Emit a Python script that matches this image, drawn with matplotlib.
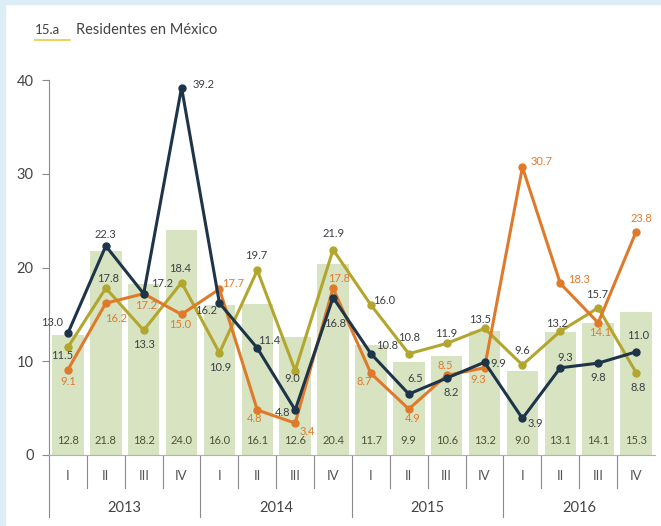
import matplotlib
matplotlib.use("Agg")
import matplotlib.pyplot as plt
import matplotlib.patches as mpatches
import matplotlib.transforms as mtransforms

plt.rcParams['font.family'] = ['Lato', 'DejaVu Sans']

years = ["2013", "2014", "2015", "2016"]
quarters = ["I", "II", "III", "IV"]

bars = [12.8, 21.8, 18.2, 24.0, 16.0, 16.1, 12.6, 20.4,
        11.7, 9.9, 10.6, 13.2, 9.0, 13.1, 14.1, 15.3]
navy = [13.0, 22.3, 17.2, 39.2, 16.2, 11.4, 4.8, 16.8,
        10.8, 6.5, 8.2, 9.9, 3.9, 9.3, 9.8, 11.0]
orange = [9.1, 16.2, 17.2, 15.0, 17.7, 4.8, 3.4, 17.8,
          8.7, 4.9, 8.5, 9.3, 30.7, 18.3, 14.1, 23.8]
olive = [11.5, 17.8, 13.3, 18.4, 10.9, 19.7, 9.0, 21.9,
         16.0, 10.8, 11.9, 13.5, 9.6, 13.2, 15.7, 8.8]

# label offsets (pixels) - layout only
navy_off = [(-16, 11), (0, 11), (18, 10), (22, 3), (-13, -7), (12, 8), (-13, -2), (2, -26),
            (16, 8), (6, 16), (5, -14), (14, -1), (13, -5), (5, 10), (0, -14), (2, 16)]
orange_off = [(0, -12), (10, -15), (2, -12), (-1, -10), (14, 6), (-3, -9), (12, -8), (6, 10),
              (-7, -8), (4, -9), (-1, 10), (-6, -12), (19, 6), (19, 4), (2, -10), (5, 13)]
olive_off = [(-6, -8), (2, 10), (0, -14), (-1, 14), (1, -15), (-1, 15), (-3, -8), (1, 16),
             (13, 4), (0, 16), (0, 10), (-4, 9), (0, 15), (-3, 8), (-1, 13), (2, -15)]

C_NAVY = "#1d3449"
C_ORANGE = "#e07a2b"
C_OLIVE = "#b3a62e"
C_BAR = "#d7e3c1"
C_TEXT = "#3a3f44"
C_GRAY = "#8a8a8a"

fig = plt.figure(figsize=(6.61, 5.26), dpi=100)
fig.patch.set_facecolor("white")
# light blue frame on left and top
fig.add_artist(mpatches.Rectangle((0, 0), 5 / 661, 1, transform=fig.transFigure,
                                  color="#dcedf5", zorder=0))
fig.add_artist(mpatches.Rectangle((0, 1 - 4 / 526), 1, 4 / 526, transform=fig.transFigure,
                                  color="#dcedf5", zorder=0))

ax = fig.add_axes([49 / 661, 71 / 526, 606 / 661, 375 / 526])
n = len(bars)
xs = list(range(n))

ax.bar(xs, bars, width=0.83, color=C_BAR, zorder=1)
for x, v in zip(xs, bars):
    ax.annotate(f"{v:.1f}", (x, 0), xytext=(0, 15), textcoords="offset pixels",
                ha="center", va="center", fontsize=8, color="#4b5236", zorder=5)

def draw(vals, color, offs, tcolor, z):
    ax.plot(xs, vals, color=color, lw=2.2, marker="o", ms=5, zorder=z,
            clip_on=False)
    for x, v, (dx, dy) in zip(xs, vals, offs):
        ax.annotate(f"{v:.1f}", (x, v), xytext=(dx, dy), textcoords="offset pixels",
                    ha="center", va="center", fontsize=8, color=tcolor, zorder=z + 5)

draw(olive, C_OLIVE, olive_off, C_TEXT, 3)
draw(orange, C_ORANGE, orange_off, C_ORANGE, 4)
draw(navy, C_NAVY, navy_off, C_TEXT, 5)

ax.set_xlim(-0.5, n - 0.5)
ax.set_ylim(0, 40)
ax.set_yticks([0, 10, 20, 30, 40])
ax.tick_params(axis="y", length=5, width=0.8, color=C_GRAY, labelsize=10.5,
               labelcolor="#444444", pad=6)
ax.set_xticks([])
for s in ["top", "right"]:
    ax.spines[s].set_visible(False)
ax.spines["left"].set_color(C_GRAY)
ax.spines["bottom"].set_color("#b0b0b0")
ax.spines["left"].set_linewidth(0.8)
ax.spines["bottom"].set_linewidth(0.8)
ax.set_facecolor("none")

trans = mtransforms.blended_transform_factory(ax.transData, ax.transAxes)
q_bottom = -33 / 375
y_bottom = -62 / 375
for k in range(n):
    xb = k - 0.5
    if k % 4 == 0:
        ax.plot([xb, xb], [0, y_bottom], transform=trans, color=C_GRAY, lw=0.8,
                clip_on=False)
    else:
        ax.plot([xb, xb], [0, q_bottom], transform=trans, color=C_GRAY, lw=0.8,
                clip_on=False)
    ax.text(k, -21 / 375, quarters[k % 4], transform=trans, ha="center", va="center",
            fontsize=9.5, color="#555555")
for i, yr in enumerate(years):
    ax.text(4 * i + 1.5, -53 / 375, yr, transform=trans, ha="center", va="center",
            fontsize=10.5, color="#444444")

fig.text(35 / 661, 1 - 30 / 526, "15.a", ha="left", va="center", fontsize=9.5,
         color="#444444")
fig.text(76 / 661, 1 - 30 / 526, "Residentes en México", ha="left", va="center",
         fontsize=10.5, color="#444444")
fig.add_artist(plt.Line2D([35 / 661, 70 / 661], [1 - 40 / 526, 1 - 40 / 526],
                          transform=fig.transFigure, color="#e8c93c", lw=1.2))

fig.savefig("out.png", dpi=100)
